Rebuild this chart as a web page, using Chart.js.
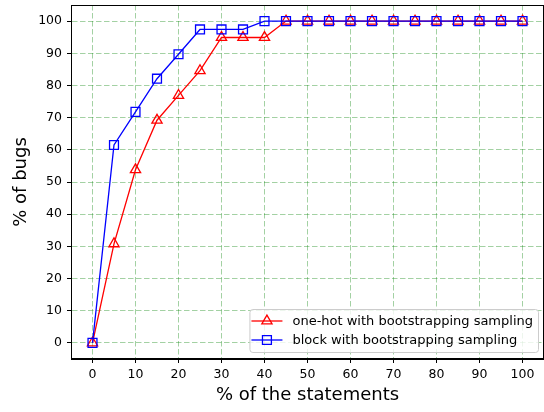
<!DOCTYPE html>
<html>
<head>
<meta charset="utf-8">
<script src="https://cdn.jsdelivr.net/npm/chart.js@4"></script>
<style>
  html, body { margin: 0; padding: 0; background: #fff; }
  #wrap { width: 544px; height: 412px; }
</style>
</head>
<body>
<div id="wrap"><canvas id="chart" width="544" height="412"></canvas></div>
<script>
// data
const xValues = [0, 5, 10, 15, 20, 25, 30, 35, 40, 45, 50, 55, 60, 65, 70, 75, 80, 85, 90, 95, 100];
const oneHot = [0, 30.8, 53.8, 69.2, 76.9, 84.6, 94.9, 94.9, 94.9, 100, 100, 100, 100, 100, 100, 100, 100, 100, 100, 100, 100];
const block  = [0, 61.5, 71.8, 82.1, 89.7, 97.4, 97.4, 97.4, 100, 100, 100, 100, 100, 100, 100, 100, 100, 100, 100, 100, 100];
const xTicks = [0, 10, 20, 30, 40, 50, 60, 70, 80, 90, 100];
const yTicks = [0, 10, 20, 30, 40, 50, 60, 70, 80, 90, 100];

const FONT = "'DejaVu Sans', sans-serif";
const toPoints = ys => xValues.map((x, i) => ({ x: x, y: ys[i] }));

// matplotlib-style full frame
const framePlugin = {
    id: 'frame',
    afterDatasetsDraw(chart) {
        const a = chart.chartArea, ctx = chart.ctx;
        ctx.save();
        ctx.strokeStyle = '#000';
        ctx.lineWidth = 1;
        ctx.strokeRect(a.left + 0.5, a.top + 0.5, a.right - a.left - 1, a.bottom - a.top - 1);
        ctx.restore();
    }
};

// legend drawn inside the plot, lower right
const insideLegend = {
    id: 'insideLegend',
    afterDraw(chart) {
        const ctx = chart.ctx, a = chart.chartArea;
        const sets = chart.data.datasets;
        ctx.save();
        ctx.font = '13px ' + FONT;
        let tw = 0;
        sets.forEach(d => { tw = Math.max(tw, ctx.measureText(d.label).width); });
        const rowH = 19, padL = 2, lineLen = 31, gap = 10, padR = 5;
        const w = padL + lineLen + gap + tw + padR;
        const h = rowH * sets.length + 5;
        const x0 = a.right - 6 - w;
        const y0 = a.bottom - 7 - h;
        ctx.beginPath();
        ctx.roundRect(x0 + 0.5, y0 + 0.5, w, h, 3);
        ctx.fillStyle = 'rgba(255,255,255,0.8)';
        ctx.fill();
        ctx.strokeStyle = '#cccccc';
        ctx.lineWidth = 1;
        ctx.stroke();
        sets.forEach((d, i) => {
            const cy = y0 + 12 + i * rowH;
            const lx = x0 + padL;
            ctx.strokeStyle = d.borderColor;
            ctx.lineWidth = d.borderWidth;
            ctx.beginPath();
            ctx.moveTo(lx, cy);
            ctx.lineTo(lx + lineLen, cy);
            ctx.stroke();
            ctx.fillStyle = 'rgba(0,0,0,0)';
            ctx.strokeStyle = d.borderColor;
            ctx.lineWidth = d.pointBorderWidth;
            Chart.helpers.drawPoint(ctx, {
                pointStyle: d.pointStyle,
                radius: d.pointRadius,
                borderWidth: d.pointBorderWidth,
                rotation: 0
            }, lx + lineLen / 2, cy);
            ctx.fillStyle = '#000';
            ctx.textBaseline = 'middle';
            ctx.fillText(d.label, lx + lineLen + gap, cy + 1);
        });
        ctx.restore();
    }
};

const gridGreen = 'rgba(0,128,0,0.36)';

new Chart(document.getElementById('chart'), {
    type: 'line',
    data: {
        datasets: [
            {
                label: 'one-hot with bootstrapping sampling',
                data: toPoints(oneHot),
                borderColor: '#ff0000',
                borderWidth: 1.3,
                pointStyle: 'triangle',
                pointRadius: 5.9,
                pointBorderWidth: 1.3,
                pointBorderColor: '#ff0000',
                pointBackgroundColor: 'rgba(0,0,0,0)',
                tension: 0,
                order: 1
            },
            {
                label: 'block with bootstrapping sampling',
                data: toPoints(block),
                borderColor: '#0000ff',
                borderWidth: 1.3,
                pointStyle: 'rect',
                pointRadius: 6.3,
                pointBorderWidth: 1.3,
                pointBorderColor: '#0000ff',
                pointBackgroundColor: 'rgba(0,0,0,0)',
                tension: 0,
                order: 0
            }
        ]
    },
    options: {
        responsive: false,
        animation: false,
        layout: { padding: { top: 5, left: 0, right: 0, bottom: 0 }, autoPadding: false },
        plugins: {
            legend: { display: false },
            tooltip: { enabled: false }
        },
        scales: {
            x: {
                type: 'linear',
                min: -5,
                max: 105,
                afterBuildTicks: s => { s.ticks = xTicks.map(v => ({ value: v })); },
                afterFit: s => { s.height = 53; s.paddingLeft = 0; s.paddingRight = 0; },
                ticks: { color: '#000', font: { family: FONT, size: 12.5 }, padding: 4, maxRotation: 0 },
                grid: { color: gridGreen, lineWidth: 1, tickColor: '#000', tickLength: 4, tickWidth: 1 },
                border: { display: true, color: '#000', width: 1, dash: [5.5, 2.5] },
                title: { display: true, text: '% of the statements', color: '#000', font: { family: FONT, size: 18 }, padding: { top: 0, bottom: 6 } }
            },
            y: {
                type: 'linear',
                min: -5,
                max: 105,
                afterBuildTicks: s => { s.ticks = yTicks.map(v => ({ value: v })); },
                afterFit: s => { s.width = 71; s.paddingTop = 0; s.paddingBottom = 0; },
                ticks: { color: '#000', font: { family: FONT, size: 12.5 }, padding: 5 },
                grid: { color: gridGreen, lineWidth: 1, tickColor: '#000', tickLength: 4, tickWidth: 1 },
                border: { display: true, color: '#000', width: 1, dash: [5.5, 2.5] },
                title: { display: true, text: '% of bugs', color: '#000', font: { family: FONT, size: 18 }, padding: { top: 11, bottom: 0 } }
            }
        }
    },
    plugins: [framePlugin, insideLegend]
});
</script>
</body>
</html>
